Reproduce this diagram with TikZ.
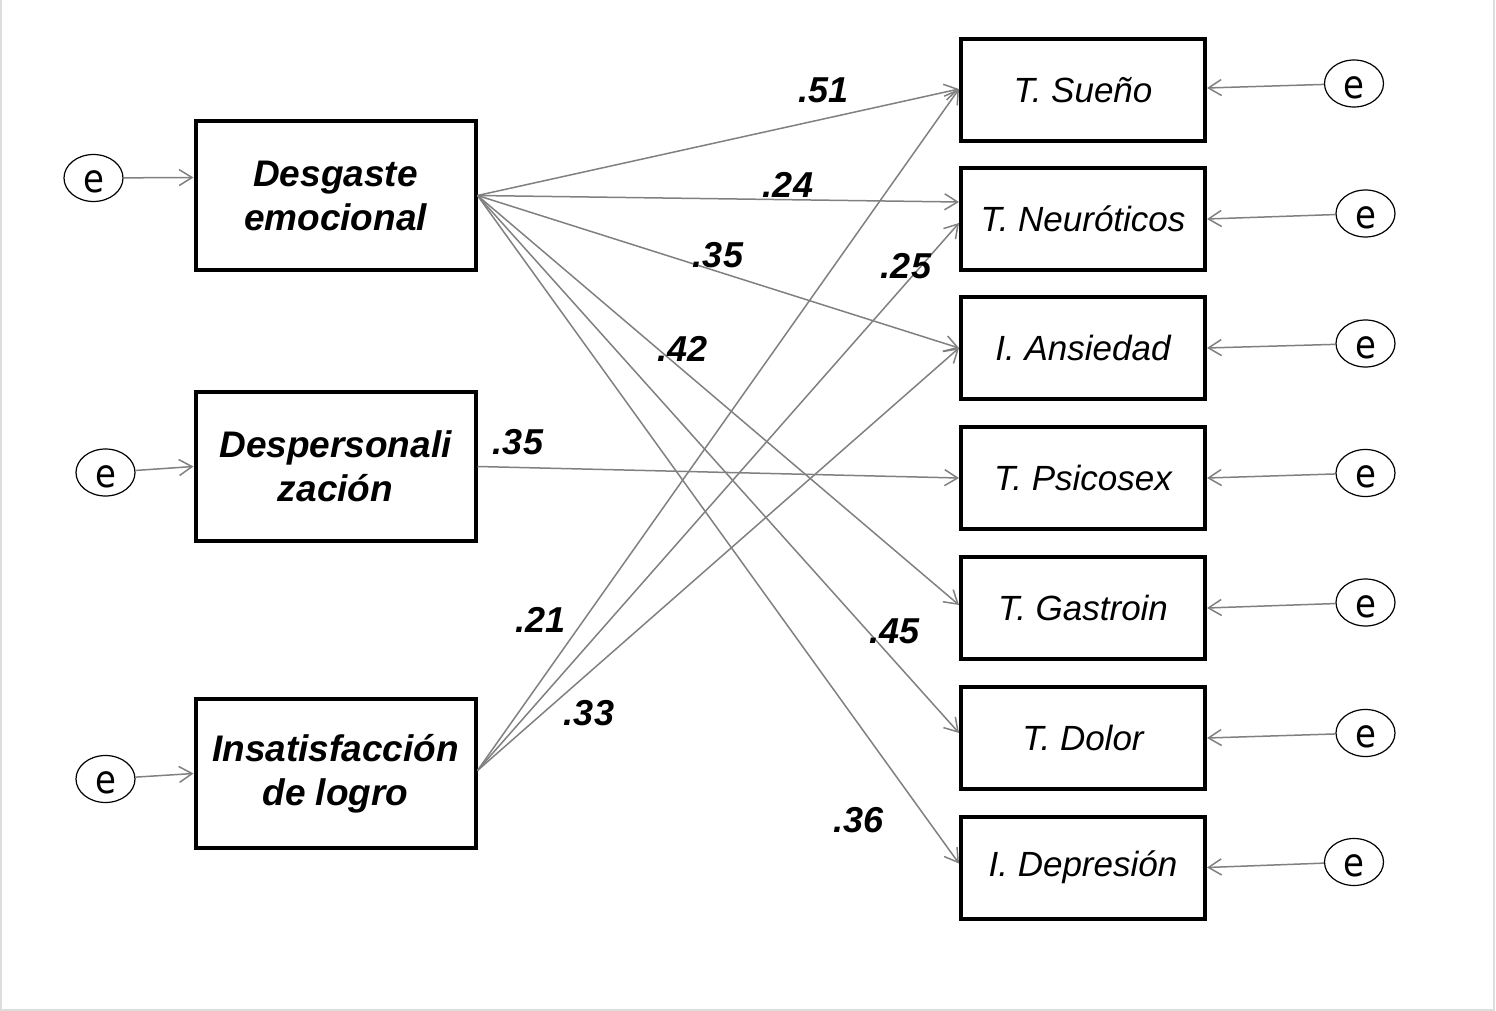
\documentclass[tikz,border=0pt]{standalone}
\usepackage{fontspec}
\setmainfont{Liberation Sans}
\newfontfamily\efont{DejaVu Sans}
\usetikzlibrary{arrows.meta,shapes.geometric}
\definecolor{linegray}{HTML}{808080}
\definecolor{framegray}{HTML}{DDDDDD}
\begin{document}
\begin{tikzpicture}[x=0.5pt,y=-0.5pt,
  lbox/.style={draw,line width=2pt,minimum width=140pt,minimum height=74.5pt,inner sep=0pt,align=center,
    font=\bfseries\itshape\fontsize{18.5}{22}\selectfont},
  rbox/.style={draw,line width=2pt,minimum width=122pt,minimum height=51pt,inner sep=0pt,
    font=\itshape\fontsize{17.5}{20}\selectfont},
  err/.style={ellipse,draw,line width=0.6pt,minimum width=29.5pt,minimum height=23.5pt,inner sep=0pt,
    label={[inner sep=0pt,yshift=-2pt,yscale=1.15,font=\efont\fontsize{17}{17}\selectfont]center:e}},
  coef/.style={inner sep=0pt,font=\bfseries\itshape\fontsize{18}{18}\selectfont},
  path/.style={draw=linegray,line width=0.75pt,-{Straight Barb[length=6.5pt,width=8pt]}}
]
\useasboundingbox (0,0) rectangle (1496,1011);
\draw[framegray,line width=1pt] (1,0) -- (1,1009.5) -- (1493.5,1009.5) -- (1493.5,0);

% left boxes
\node[lbox] (desg) at (335.5,195.5) {Desgaste\\emocional};
\node[lbox] (desp) at (335.5,466.5) {Despersonali\\zación};
\node[lbox] (insat) at (335.5,773.5) {Insatisfacción\\de logro};

% right boxes
\node[rbox] (sueno) at (1083,90) {T. Sueño};
\node[rbox] (neuro) at (1083,219) {T. Neuróticos};
\node[rbox] (ansie) at (1083,348) {I. Ansiedad};
\node[rbox] (psico) at (1083,478) {T. Psicosex};
\node[rbox] (gastro) at (1083,608) {T. Gastroin};
\node[rbox] (dolor) at (1083,738) {T. Dolor};
\node[rbox] (depre) at (1083,867.5) {I. Depresión};

% error terms left
\node[err] (e1) at (93.5,178) {};
\node[err] (e2) at (105.5,472.5) {};
\node[err] (e3) at (105.5,779) {};
% error terms right
\node[err] (r1) at (1354,83.5) {};
\node[err] (r2) at (1365.5,213.5) {};
\node[err] (r3) at (1365.5,343.5) {};
\node[err] (r4) at (1365.5,473) {};
\node[err] (r5) at (1365.5,602.5) {};
\node[err] (r6) at (1365.5,733) {};
\node[err] (r7) at (1354,862) {};

% error arrows
\draw[path] (e1) -- ([yshift=9pt]desg.west);
\draw[path] (e2) -- (desp.west);
\draw[path] (e3) -- (insat.west);
\draw[path] (r1) -- ([yshift=1pt]sueno.east);
\draw[path] (r2) -- (neuro.east);
\draw[path] (r3) -- (ansie.east);
\draw[path] (r4) -- (psico.east);
\draw[path] (r5) -- (gastro.east);
\draw[path] (r6) -- (dolor.east);
\draw[path] (r7) -- (depre.east);

% structural paths
\draw[path] (desg.east) -- ([yshift=0.5pt]sueno.west);
\draw[path] (desg.east) -- ([yshift=8.5pt]neuro.west);
\draw[path] (desg.east) -- (ansie.west);
\draw[path] (desg.east) -- ([yshift=1.5pt]gastro.west);
\draw[path] (desg.east) -- ([yshift=2.5pt]dolor.west);
\draw[path] (desg.east) -- ([yshift=2pt]depre.west);
\draw[path] (desp.east) -- (psico.west);
\draw[path] ([yshift=1.5pt]insat.east) -- ([yshift=0.5pt]sueno.west);
\draw[path] ([yshift=1.5pt]insat.east) -- ([yshift=-2pt]neuro.west);
\draw[path] ([yshift=1.5pt]insat.east) -- (ansie.west);

% coefficients
\node[coef] (c1) at (823.5,90) {.51};
\node[coef] (c2) at (788,184.5) {.24};
\node[coef] (c3) at (718,255) {.35};
\node[coef] (c4) at (906,266.5) {.25};
\node[coef] (c5) at (682.5,348.5) {.42};
\node[coef] (c6) at (518,442.5) {.35};
\node[coef] (c7) at (540.5,620) {.21};
\node[coef] (c8) at (589,713.5) {.33};
\node[coef] (c9) at (894.5,631.5) {.45};
\node[coef] (c10) at (858.5,820) {.36};
\end{tikzpicture}
\end{document}
